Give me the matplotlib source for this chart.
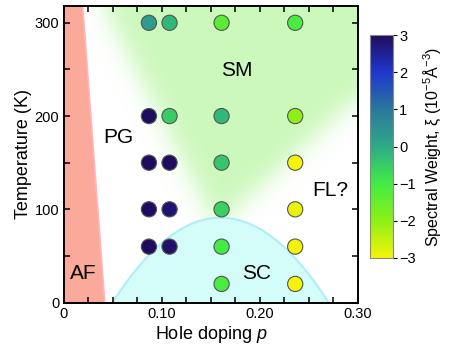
import numpy as np
import matplotlib
matplotlib.use("Agg")
import matplotlib.pyplot as plt
from matplotlib.colors import LinearSegmentedColormap
from matplotlib.path import Path

plt.rcParams['font.family'] = ['Liberation Sans', 'DejaVu Sans']
plt.rcParams['mathtext.fontset'] = 'custom'
plt.rcParams['mathtext.rm'] = 'Liberation Sans'
plt.rcParams['mathtext.it'] = 'Liberation Sans:italic'

# measured points: hole doping, temperature (K), spectral weight xi (1e-5 A^-3)
doping = [0.087, 0.087, 0.087, 0.087, 0.087,
          0.108, 0.108, 0.108, 0.108, 0.108,
          0.161, 0.161, 0.161, 0.161, 0.161, 0.161,
          0.236, 0.236, 0.236, 0.236, 0.236, 0.236]
temps = [300, 200, 150, 100, 60,
         300, 200, 150, 100, 60,
         300, 200, 150, 100, 60, 20,
         300, 200, 150, 100, 60, 20]
weight = [0.3, 3.0, 3.0, 3.0, 3.0,
          -0.2, -0.5, 3.0, 2.8, 2.9,
          -1.3, -0.2, -0.4, -0.6, -1.0, -1.1,
          -1.1, -2.0, -3.0, -2.9, -3.0, -3.0]

# phase regions
af_p = [0.0, 0.042, 0.0195, 0.0]
af_T = [0.0, 0.0, 318, 318]
tc_max, p_opt = 91.0, 0.16          # superconducting dome
sm_p = [0.035, 0.155, 0.33, 0.33]    # strange metal wedge (soft edged)
sm_T = [330, 82, 250, 330]

region_labels = ["AF", "PG", "SM", "SC", "FL?"]
region_p = [0.020, 0.056, 0.177, 0.197, 0.272]
region_T = [31, 177, 249, 31, 120]

xlim = (0, 0.30)
ylim = (0, 318)

cmap = LinearSegmentedColormap.from_list("xi", [
    (0.0, "#f4f40a"), (1/6, "#8cf015"), (2/6, "#42ec44"), (3/6, "#2eaa88"),
    (4/6, "#2a789c"), (5/6, "#1f36cc"), (1.0, "#200c5e")])

fig = plt.figure(figsize=(4.58, 3.47), dpi=100)
ax = fig.add_axes([0.1387, 0.128, 0.643, 0.8547])

# soft green SM region: polygon mask blurred with a gaussian
nx, ny = 300, 318
gp = np.linspace(xlim[0], xlim[1], nx)
gT = np.linspace(ylim[0], ylim[1], ny)
PP, TT = np.meshgrid(gp, gT)
path = Path(np.column_stack([sm_p, sm_T]))
mask = path.contains_points(np.column_stack([PP.ravel(), TT.ravel()])).reshape(ny, nx).astype(float)
sig = 12
k = np.exp(-0.5 * (np.arange(-3 * sig, 3 * sig + 1) / sig) ** 2)
k /= k.sum()
padded = np.pad(mask, 3 * sig, mode='edge')
blur = np.apply_along_axis(lambda r: np.convolve(r, k, mode='valid'), 1, padded)
blur = np.apply_along_axis(lambda c: np.convolve(c, k, mode='valid'), 0, blur)
rgba = np.zeros((ny, nx, 4))
rgba[..., 0], rgba[..., 1], rgba[..., 2] = 0.80, 0.975, 0.74
rgba[..., 3] = blur
ax.imshow(rgba, extent=(xlim[0], xlim[1], ylim[0], ylim[1]), origin='lower',
          aspect='auto', zorder=0, interpolation='bilinear')

# AF region
ax.fill(af_p, af_T, color="#fba99a", zorder=1, lw=0)
ax.plot(af_p[1:3], af_T[1:3], color="#ffb6b6", lw=1.2, zorder=1)

# SC dome
pd = np.linspace(0.0, 0.3, 400)
tc = tc_max * (1 - 82.6 * (pd - p_opt) ** 2)
tc = np.where(tc > 0, tc, np.nan)
ax.fill_between(pd, 0, tc, color="#d4fcf8", lw=0, zorder=1)
ax.plot(pd, tc, color="#aeeef8", lw=1.5, zorder=1)

sc = ax.scatter(doping, temps, c=weight, cmap=cmap, vmin=-3, vmax=3, s=120,
                edgecolors="#555555", linewidths=0.8, zorder=3)

for lab, x, y in zip(region_labels, region_p, region_T):
    ax.text(x, y, lab, fontsize=15, ha='center', va='center', zorder=4)

ax.set_xlim(*xlim)
ax.set_ylim(*ylim)
ax.set_xticks([0, 0.10, 0.20, 0.30])
ax.set_xticklabels(["0", "0.10", "0.20", "0.30"])
ax.set_xticks(np.arange(0, 0.3001, 0.025), minor=True)
ax.set_yticks([0, 100, 200, 300])
ax.set_yticks([50, 150, 250], minor=True)
ax.tick_params(which='both', direction='in', top=True, right=True, width=1.1,
               labelsize=10.5, pad=3)
ax.tick_params(which='major', length=4.5)
ax.tick_params(which='minor', length=4.5)
for s in ax.spines.values():
    s.set_linewidth(1.4)
ax.set_xlabel("Hole doping $p$", fontsize=13, labelpad=2)
ax.set_ylabel("Temperature (K)", fontsize=13, labelpad=2)

cax = fig.add_axes([0.8079, 0.2565, 0.0502, 0.6426])
cb = fig.colorbar(sc, cax=cax)
cb.set_ticks([-3, -2, -1, 0, 1, 2, 3])
cb.outline.set_edgecolor("#888888")
cb.outline.set_linewidth(0.8)
cax.tick_params(length=3, width=0.8, labelsize=10.5, pad=1.5)
cb.set_label("Spectral Weight, ξ (10$^{-5}$Å$^{-3}$)", fontsize=11.5, labelpad=4)

fig.savefig("out.png", dpi=100)
